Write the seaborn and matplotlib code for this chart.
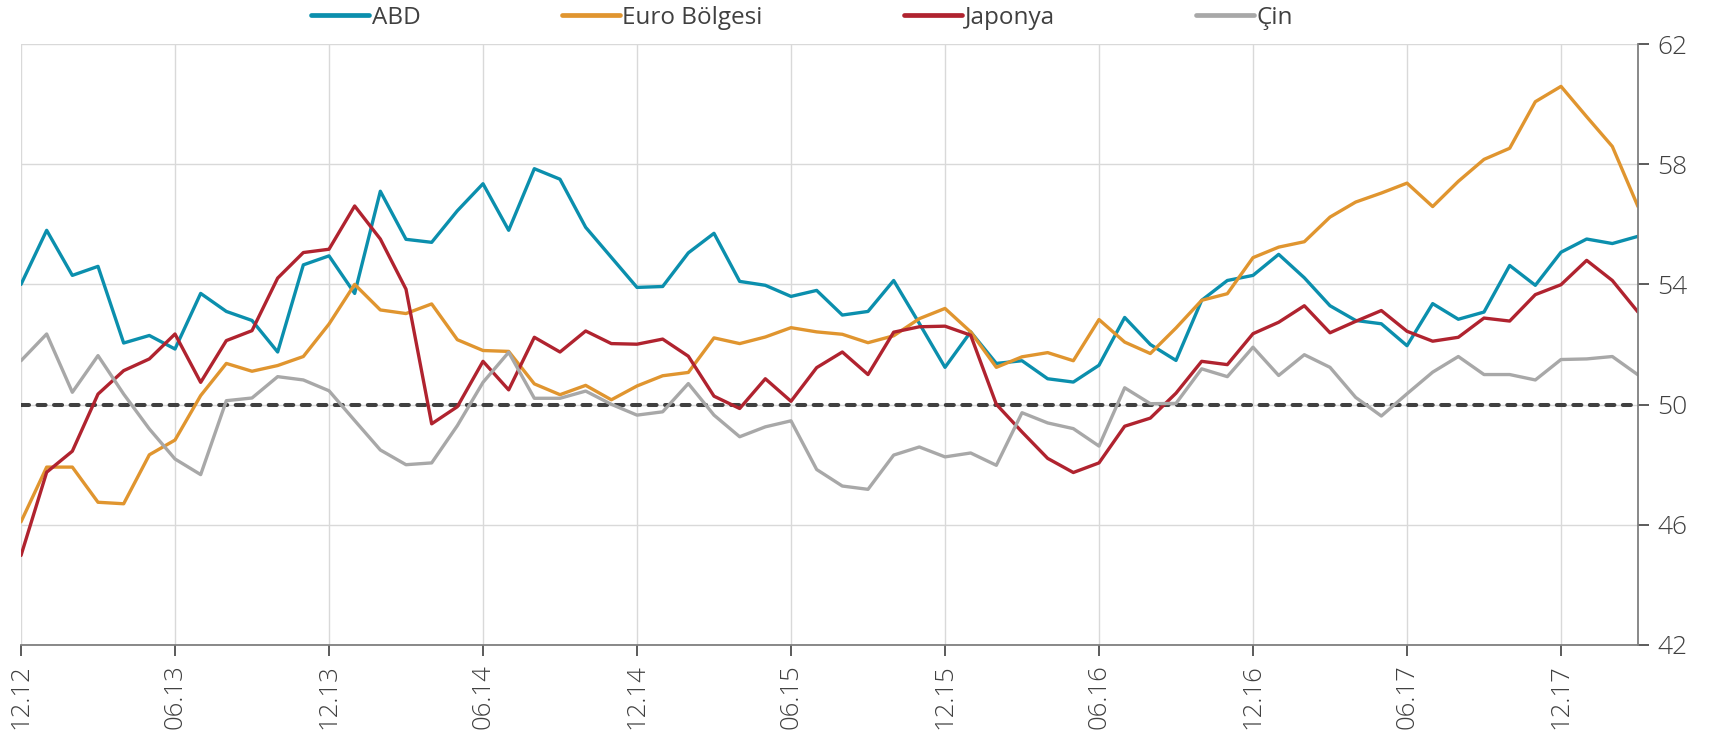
import pandas as pd
import numpy as np
import seaborn as sns
from matplotlib import pyplot as plt

# monthly PMI readings, 12.12 .. 03.18
months = pd.date_range('2012-12-01', periods=64, freq='MS').strftime('%m.%y').tolist()

abd = [54.0, 55.8, 54.3, 54.6, 52.05, 52.3, 51.85, 53.7, 53.1, 52.8, 51.75, 54.65,
       54.95, 53.7, 57.1, 55.5, 55.4, 56.45, 57.35, 55.8, 57.85, 57.5, 55.9, 54.9,
       53.9, 53.93, 55.05, 55.7, 54.1, 53.97, 53.6, 53.8, 52.98, 53.1, 54.13, 52.7,
       51.24, 52.42, 51.37, 51.46, 50.86, 50.75, 51.31, 52.9, 52.0, 51.47, 53.47, 54.13,
       54.3, 55.0, 54.22, 53.29, 52.8, 52.69, 51.96, 53.36, 52.84, 53.08, 54.63, 53.97,
       55.07, 55.51, 55.36, 55.6]
euro = [46.1, 47.92, 47.92, 46.75, 46.7, 48.33, 48.82, 50.3, 51.37, 51.11, 51.3, 51.6,
        52.68, 54.0, 53.15, 53.03, 53.35, 52.16, 51.8, 51.77, 50.69, 50.33, 50.64, 50.16,
        50.62, 50.96, 51.07, 52.22, 52.03, 52.25, 52.56, 52.42, 52.34, 52.06, 52.29, 52.86,
        53.2, 52.42, 51.24, 51.59, 51.73, 51.46, 52.83, 52.08, 51.7, 52.55, 53.47, 53.69,
        54.89, 55.24, 55.42, 56.24, 56.74, 57.04, 57.37, 56.59, 57.43, 58.16, 58.53, 60.08,
        60.59, 59.58, 58.59, 56.59]
japonya = [44.98, 47.75, 48.45, 50.35, 51.13, 51.52, 52.35, 50.74, 52.13, 52.46, 54.21, 55.06,
           55.17, 56.61, 55.51, 53.84, 49.36, 49.93, 51.44, 50.49, 52.24, 51.75, 52.45, 52.03,
           52.01, 52.18, 51.61, 50.28, 49.87, 50.86, 50.11, 51.23, 51.75, 51.0, 52.41, 52.59,
           52.61, 52.31, 50.01, 49.09, 48.21, 47.74, 48.06, 49.28, 49.55, 50.38, 51.44, 51.33,
           52.36, 52.74, 53.29, 52.39, 52.77, 53.13, 52.44, 52.11, 52.24, 52.88, 52.78, 53.66,
           53.99, 54.8, 54.13, 53.08]
cin = [51.46, 52.35, 50.41, 51.63, 50.35, 49.19, 48.19, 47.67, 50.13, 50.22, 50.93, 50.82,
       50.46, 49.47, 48.49, 48.0, 48.06, 49.3, 50.74, 51.74, 50.21, 50.21, 50.45, 50.01,
       49.65, 49.76, 50.7, 49.65, 48.93, 49.26, 49.46, 47.84, 47.29, 47.18, 48.32, 48.59,
       48.26, 48.39, 47.98, 49.73, 49.39, 49.2, 48.62, 50.56, 50.03, 50.04, 51.19, 50.93,
       51.91, 50.97, 51.66, 51.24, 50.24, 49.62, 50.36, 51.08, 51.6, 51.0, 51.0, 50.82,
       51.5, 51.52, 51.6, 50.99]

series_names = ['ABD', 'Euro Bölgesi', 'Japonya', 'Çin']
colors = ['#0B8FAD', '#E0952F', '#B0232F', '#A8A8A8']
y_ticks = [42, 46, 50, 54, 58, 62]
threshold = 50

df = pd.DataFrame({'t': np.arange(len(months)), 'ABD': abd, 'Euro Bölgesi': euro,
                   'Japonya': japonya, 'Çin': cin})
long = df.melt(id_vars='t', var_name='seri', value_name='pmi')

sns.set_style('white')
plt.rcParams['font.family'] = ['Open Sans', 'DejaVu Sans']

fig = plt.figure(figsize=(17.21, 7.44), dpi=100)
ax = fig.add_axes([21 / 1721, 1 - 645 / 744, (1638 - 21) / 1721, (645 - 44) / 744])

sns.lineplot(data=long, x='t', y='pmi', hue='seri', hue_order=series_names,
             palette=dict(zip(series_names, colors)), linewidth=2.4, ax=ax)
ax.axhline(threshold, color='#404040', linestyle=(0, (2.0, 2.1)), dash_capstyle='round',
           linewidth=2.9, zorder=1)

# x axis: every 6 months
xt = list(range(0, len(months), 6))
ax.set_xticks(xt)
ax.set_xticklabels([months[i] for i in xt], rotation=90, fontsize=18.5, color='#404040',
                   fontweight='light')
ax.set_xlim(0, len(months) - 1)
ax.set_ylim(y_ticks[0], y_ticks[-1])
ax.set_yticks(y_ticks)
ax.yaxis.tick_right()
ax.set_yticklabels([str(v) for v in y_ticks], fontsize=19, color='#404040', fontweight='light')
ax.set_xlabel('')
ax.set_ylabel('')

ax.grid(True, color='#D9D9D9', linewidth=1)
ax.set_axisbelow(True)
for s in ['left', 'top']:
    ax.spines[s].set_visible(False)
for s in ['right', 'bottom']:
    ax.spines[s].set_color('#7F7F7F')
    ax.spines[s].set_linewidth(1.3)
ax.tick_params(axis='both', which='both', direction='out', length=8, width=1.2, color='#404040',
               pad=6, bottom=True, right=True)

handles, labels = ax.get_legend_handles_labels()
ax.get_legend().remove()
leg = fig.legend(handles, labels, loc='upper center', bbox_to_anchor=(0.466, 1.022), ncol=4,
                 frameon=False, fontsize=17.5, handlelength=2.4, handletextpad=0.1,
                 columnspacing=5.8, labelcolor='#404040')
for h in leg.get_lines():
    h.set_linewidth(3.4)
    h.set_solid_capstyle('round')

fig.savefig('out.png', dpi=100)
